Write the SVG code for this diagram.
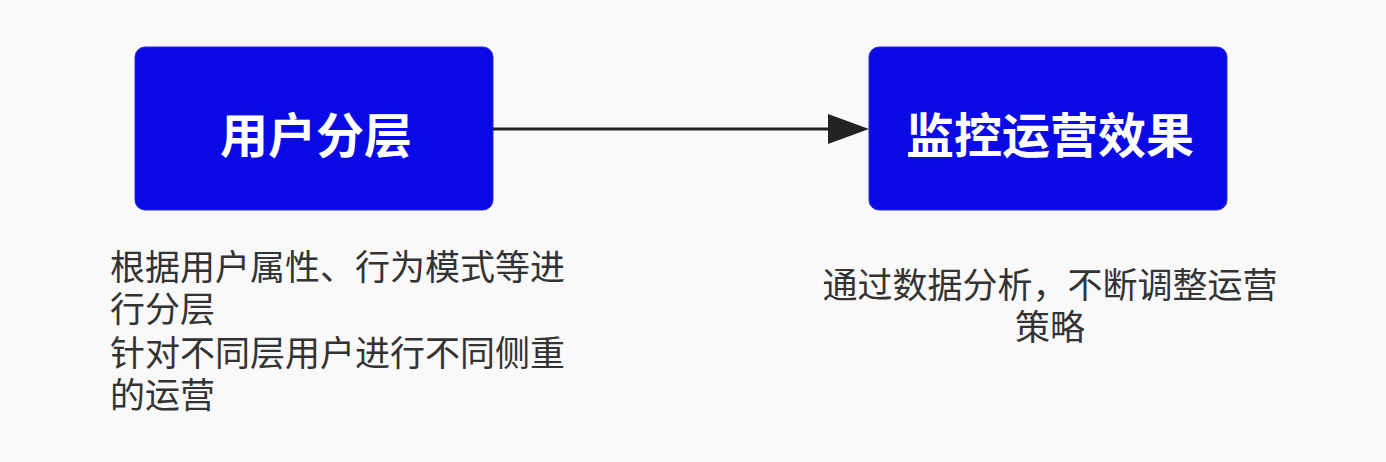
<svg xmlns="http://www.w3.org/2000/svg" width="1386" height="462" viewBox="0 0 1386 462">
<style>
.box{fill:#0A0AE6;stroke:#2a2acc;stroke-width:1}
.t{font-family:"Liberation Sans","Noto Sans CJK SC",sans-serif;font-size:48px;font-weight:bold;fill:#fff;text-anchor:middle}
.d{font-family:"Liberation Sans","Noto Sans CJK SC",sans-serif;font-size:35px;fill:#333}
</style>
<rect width="1386" height="462" fill="#f9f9f9"/>
<g id="n1"><rect class="box" x="135" y="47" width="358" height="163" rx="10"/><text class="t" x="316" y="153">用户分层</text></g>
<g id="n2"><rect class="box" x="869" y="47" width="358" height="163" rx="10"/><text class="t" x="1050" y="153">监控运营效果</text></g>
<g id="edges"><line x1="493" y1="129" x2="830" y2="129" stroke="#222" stroke-width="3"/><path d="M828,114 L869,129 L828,144 z" fill="#222"/></g>
<text class="d"><tspan x="110" y="280">根据用户属性、行为模式等进</tspan><tspan x="110" y="322">行分层</tspan><tspan x="110" y="366">针对不同层用户进行不同侧重</tspan><tspan x="110" y="408">的运营</tspan></text>
<text class="d" text-anchor="middle"><tspan x="1050" y="298">通过数据分析，不断调整运营</tspan><tspan x="1050" y="340">策略</tspan></text>
</svg>
